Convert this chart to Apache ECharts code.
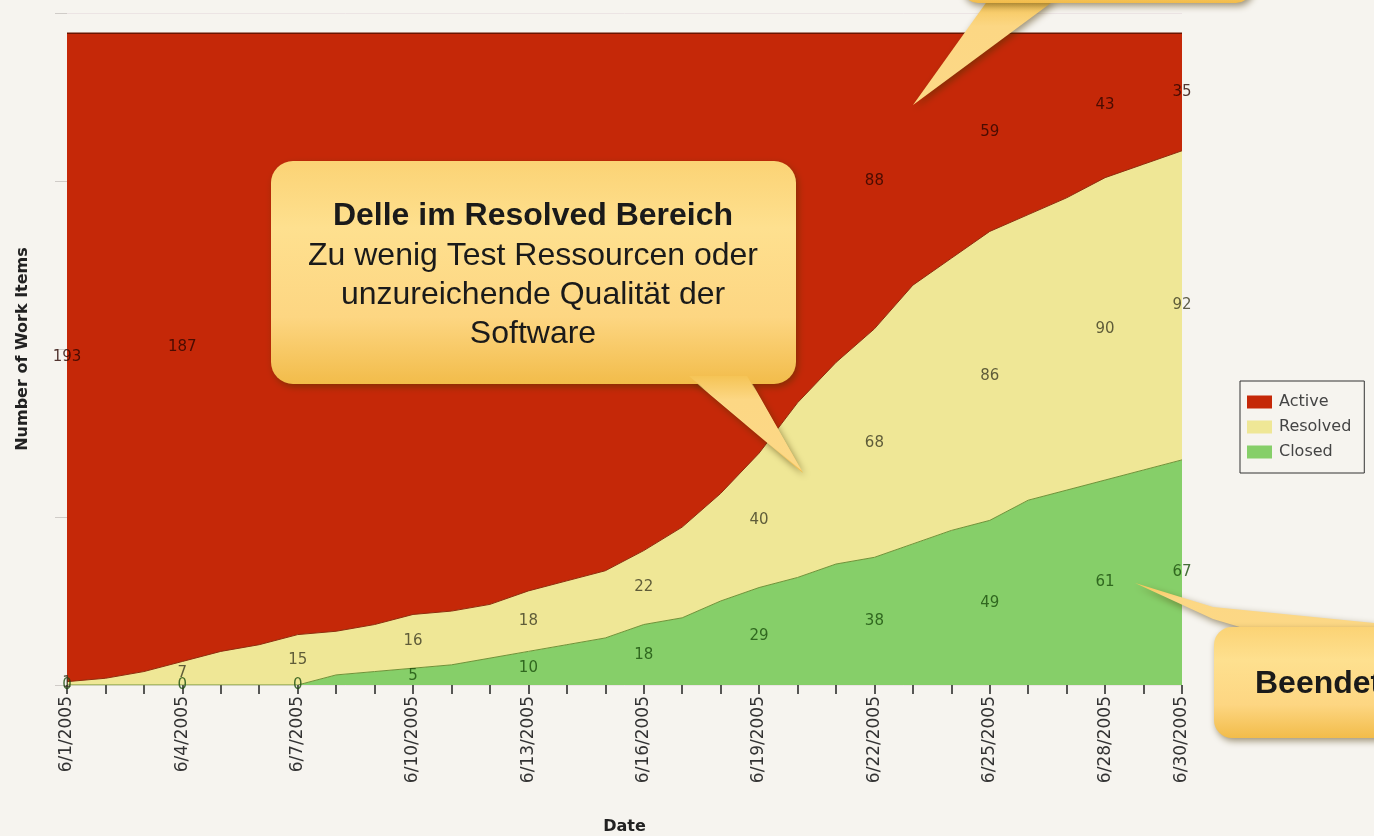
<!DOCTYPE html>
<html>
<head>
<meta charset="utf-8">
<script src="https://cdn.jsdelivr.net/npm/echarts@6/dist/echarts.min.js"></script>
<style>
  html, body { margin: 0; padding: 0; background: #f6f4ef; }
  #chart { width: 1374px; height: 836px; }
</style>
</head>
<body>
<div id="chart"></div>
<script>
// ---- data ----
const dates = ['6/1/2005','6/2/2005','6/3/2005','6/4/2005','6/5/2005','6/6/2005','6/7/2005','6/8/2005','6/9/2005','6/10/2005',
  '6/11/2005','6/12/2005','6/13/2005','6/14/2005','6/15/2005','6/16/2005','6/17/2005','6/18/2005','6/19/2005','6/20/2005',
  '6/21/2005','6/22/2005','6/23/2005','6/24/2005','6/25/2005','6/26/2005','6/27/2005','6/28/2005','6/29/2005','6/30/2005'];
const closed   = [0,0,0,0,0,0,0,3,4,5,6,8,10,12,14,18,20,25,29,32,36,38,42,46,49,55,58,61,64,67];
const resolved = [1,2,4,7,10,12,15,13,14,16,16,16,18,19,20,22,27,32,40,52,60,68,77,81,86,85,87,90,91,92];
const active   = [193,192,190,187,184,182,179,178,176,173,172,170,166,163,160,154,147,137,125,110,98,88,75,67,59,54,49,43,39,35];
const labelDays = ['6/1/2005','6/4/2005','6/7/2005','6/10/2005','6/13/2005','6/16/2005','6/19/2005','6/22/2005','6/25/2005','6/28/2005','6/30/2005'];
const seriesNames = ['Active','Resolved','Closed'];
const xAxisTitle = 'Date';
const yAxisTitle = 'Number of Work Items';

// ---- styles ----
const C_ACTIVE = '#c52808', C_RESOLVED = '#efe796', C_CLOSED = '#86cf69';
const FONT = 'DejaVu Sans';

function labelPoints(kind) {
  const pts = [];
  labelDays.forEach(d => {
    const i = dates.indexOf(d);
    let base = 0, v = 0;
    if (kind === 'Closed') { base = 0; v = closed[i]; }
    else if (kind === 'Resolved') { base = closed[i]; v = resolved[i]; }
    else { base = closed[i] + resolved[i]; v = active[i]; }
    pts.push([d, base + v / 2, v]);
  });
  return pts;
}
function labelSeries(kind, color) {
  return {
    type: 'scatter', name: '_' + kind, data: labelPoints(kind), symbolSize: 0, z: 5,
    silent: true, clip: false,
    label: { show: true, position: 'inside', formatter: p => String(p.value[2]),
      color: color, fontFamily: FONT, fontSize: 15 }
  };
}

const bubbleFill = {
  type: 'linear', x: 0, y: 0, x2: 0, y2: 1,
  colorStops: [
    { offset: 0, color: '#fbd375' },
    { offset: 0.3, color: '#fee08f' },
    { offset: 0.7, color: '#fdd682' },
    { offset: 1, color: '#f2bc4a' }
  ]
};
const tipFill = {
  type: 'linear', x: 0, y: 0, x2: 0, y2: 1,
  colorStops: [
    { offset: 0, color: '#f5c456' },
    { offset: 0.25, color: '#fcd784' },
    { offset: 1, color: '#fcd886' }
  ]
};
const shadow = { shadowBlur: 7, shadowColor: 'rgba(70,50,0,0.5)', shadowOffsetX: 2, shadowOffsetY: 3 };

const chart = echarts.init(document.getElementById('chart'), null, { renderer: 'canvas' });
chart.setOption({
  backgroundColor: '#f6f4ef',
  animation: false,
  grid: { left: 67, right: 192, top: 13, bottom: 151, containLabel: false, outerBoundsMode: 'none' },
  legend: {
    data: seriesNames, orient: 'vertical', left: 1240, top: 381,
    icon: 'rect', itemWidth: 25, itemHeight: 13, itemGap: 9,
    borderColor: '#333', borderWidth: 1, padding: [13, 13, 13, 7],
    textStyle: { fontFamily: FONT, fontSize: 16, color: '#444', padding: [0, 0, 0, 2] }
  },
  xAxis: {
    type: 'category', data: dates, boundaryGap: false,
    name: xAxisTitle, nameLocation: 'middle', nameGap: 134,
    nameTextStyle: { fontFamily: FONT, fontSize: 16, fontWeight: 'bold', color: '#222' },
    axisLine: { show: false },
    axisTick: { show: true, interval: 0, length: 9, lineStyle: { color: '#222', width: 1.5 } },
    axisLabel: { rotate: 90, interval: (i, v) => labelDays.includes(v), fontFamily: FONT, fontSize: 17, color: '#333', margin: 11 },
    splitLine: { show: false }
  },
  yAxis: {
    type: 'value', min: 0, max: 200, interval: 50,
    name: yAxisTitle, nameLocation: 'middle', nameGap: 36,
    nameTextStyle: { fontFamily: FONT, fontSize: 16, fontWeight: 'bold', color: '#222' },
    axisLine: { show: false },
    axisTick: { show: true, length: 12, lineStyle: { color: '#d0ccc8' } },
    axisLabel: { show: false },
    splitLine: { show: true, lineStyle: { color: '#ece4e4' } }
  },
  series: [
    { name: 'Closed', type: 'line', stack: 'total', data: closed, symbol: 'none',
      itemStyle: { color: C_CLOSED }, lineStyle: { color: '#6f9238', width: 1 },
      areaStyle: { color: C_CLOSED, opacity: 1 } },
    { name: 'Resolved', type: 'line', stack: 'total', data: resolved, symbol: 'none',
      itemStyle: { color: C_RESOLVED }, lineStyle: { color: '#8e2e0c', width: 1 },
      areaStyle: { color: C_RESOLVED, opacity: 1 } },
    { name: 'Active', type: 'line', stack: 'total', data: active, symbol: 'none',
      itemStyle: { color: C_ACTIVE }, lineStyle: { color: '#6a1400', width: 1.5 },
      areaStyle: { color: C_ACTIVE, opacity: 1 } },
    labelSeries('Closed', '#1a4d0c'),
    labelSeries('Resolved', '#3b3a22'),
    labelSeries('Active', '#2a0500')
  ],
  graphic: [
    // middle bubble
    { type: 'polygon', z: 100, shape: { points: [[688, 376], [748, 376], [803, 473]] },
      style: Object.assign({ fill: bubbleFill }, shadow) },
    { type: 'rect', z: 101, shape: { x: 271, y: 161, width: 525, height: 223, r: 22 },
      style: Object.assign({ fill: bubbleFill }, shadow) },
    { type: 'polygon', z: 102, shape: { points: [[689, 376], [747, 376], [802, 471]] },
      style: { fill: tipFill } },
    { type: 'text', z: 103, style: { x: 533, y: 216, text: 'Delle im Resolved Bereich', textAlign: 'center', textVerticalAlign: 'middle',
      font: 'bold 32px "Liberation Sans", Arial, sans-serif', fill: '#1a1a1a' } },
    { type: 'text', z: 103, style: { x: 533, y: 295, text: 'Zu wenig Test Ressourcen oder\nunzureichende Qualität der\nSoftware', textAlign: 'center', textVerticalAlign: 'middle',
      font: '32px "Liberation Sans", Arial, sans-serif', lineHeight: 39, fill: '#1a1a1a' } },
    // top bubble (cut off)
    { type: 'polygon', z: 100, shape: { points: [[988, 0], [1055, 0], [913, 105]] },
      style: Object.assign({ fill: tipFill }, shadow) },
    { type: 'rect', z: 101, shape: { x: 962, y: -60, width: 290, height: 63, r: 16 },
      style: Object.assign({ fill: bubbleFill }, shadow) },
    // bottom-right bubble (cut off)
    { type: 'polygon', z: 100, shape: { points: [[1135, 583], [1213, 607], [1374, 623], [1374, 645], [1300, 645], [1213, 619]] },
      style: Object.assign({ fill: tipFill }, shadow) },
    { type: 'rect', z: 101, shape: { x: 1214, y: 627, width: 220, height: 111, r: 18 },
      style: Object.assign({ fill: bubbleFill }, shadow) },
    { type: 'text', z: 103, style: { x: 1255, y: 684, text: 'Beendet', textAlign: 'left', textVerticalAlign: 'middle',
      font: 'bold 32px "Liberation Sans", Arial, sans-serif', fill: '#1a1a1a' } }
  ]
});
</script>
</body>
</html>
